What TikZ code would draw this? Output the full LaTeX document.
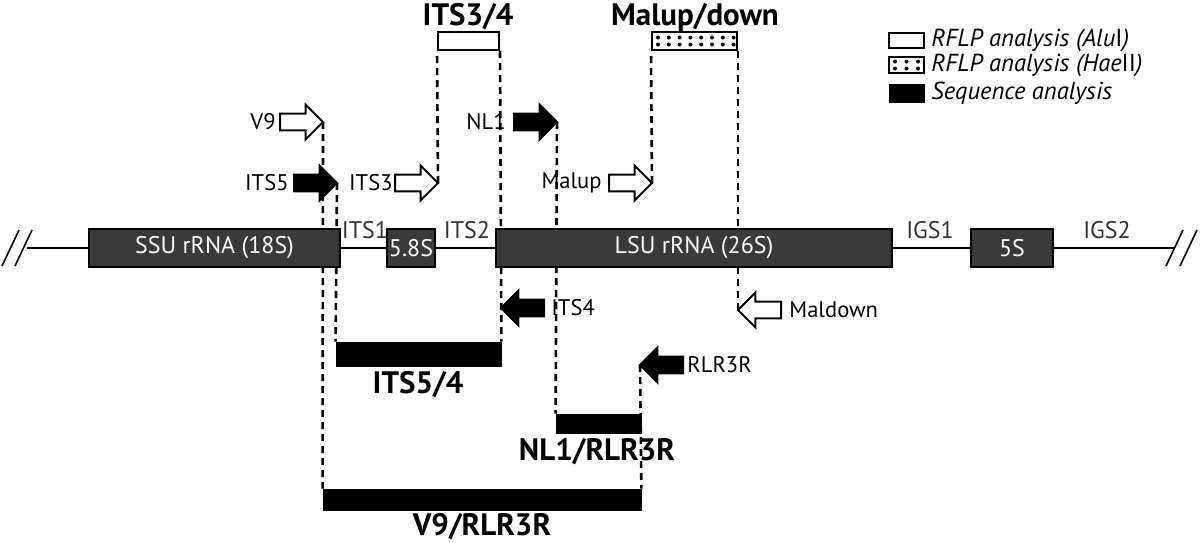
\documentclass[tikz,border=0pt]{standalone}
\usepackage{fontspec}
\setmainfont{PT Sans}
\usetikzlibrary{shapes.arrows}
\definecolor{boxgray}{HTML}{3A3A3A}
\definecolor{labgray}{HTML}{333333}
\begin{document}
\begin{tikzpicture}[x=0.5pt,y=-0.5pt,
  gene/.style={draw=black, line width=0.8pt, fill=boxgray, text=white,
    font=\fontsize{12}{14}\selectfont, inner sep=0pt, minimum height=19pt},
  region/.style={text=labgray, font=\fontsize{12}{14}\selectfont, inner sep=0pt},
  primer/.style={font=\fontsize{11.3}{13}\selectfont, inner sep=0pt},
  parrow/.style={single arrow, draw=black, line width=1pt, minimum height=21.5pt,
    inner xsep=0pt, inner ysep=3.7pt, single arrow head extend=4.5pt,
    single arrow tip angle=90, outer sep=0pt, anchor=tip},
  openarr/.style={parrow, fill=white},
  fullarr/.style={parrow, fill=black},
  leftarr/.style={shape border rotate=180},
  rflp/.style={draw=black, line width=1pt, fill=white, inner sep=0pt},
  seqbar/.style={draw=black, fill=black, inner sep=0pt},
  prodlab/.style={font=\bfseries\fontsize{15.5}{17}\selectfont, inner sep=0pt},
  legtext/.style={font=\itshape\fontsize{12.3}{14}\selectfont, anchor=west, inner sep=0pt},
  dashline/.style={line width=1.3pt, dash pattern=on 3.5pt off 2.5pt},
  backbone/.style={line width=0.8pt},
  dotmark/.style={fill=black}
]
\useasboundingbox (0,0) rectangle (1200,542);

% ---------- product bars ----------
\node[rflp, minimum width=30.5pt, minimum height=9pt] (its34) at (468.5,41) {};
\node[rflp, minimum width=42.5pt, minimum height=9pt] (malbox) at (694.5,41) {};
\foreach \i in {0,...,7}{
  \fill[dotmark] (658+\i*10.8,37.5) circle (2);
  \fill[dotmark] (658+\i*10.8,44.5) circle (2);
}
\node[prodlab, anchor=base] (its34lab) at (468,25.5) {ITS3/4};
\node[prodlab, anchor=base] (mallab) at (695,25.5) {Malup/down};

\node[seqbar, minimum width=82.5pt, minimum height=12pt] (its54) at (418.5,354) {};
\node[seqbar, minimum width=42.5pt, minimum height=9.5pt] (nlr) at (598.5,423.5) {};
\node[seqbar, minimum width=159pt, minimum height=10.5pt] (v9r) at (482,499.5) {};
\node[prodlab, anchor=base] (its54lab) at (418,393) {ITS5/4};
\node[prodlab, anchor=base] (nlrlab) at (597,460) {NL1/RLR3R};
\node[prodlab, anchor=base] (v9rlab) at (482,535) {V9/RLR3R};

% ---------- primers ----------
\node[openarr] (v9) at (323,122) {};
\node[fullarr] (its5) at (337,183) {};
\node[openarr] (its3) at (438,183) {};
\node[fullarr] (nl1) at (557,122) {};
\node[openarr] (malup) at (652,183) {};
\node[fullarr, leftarr] (its4) at (501,308) {};
\node[openarr, leftarr] (maldown) at (738,310) {};
\node[fullarr, leftarr] (rlr3r) at (640,365) {};

\node[primer, anchor=east] (v9lab) at (276,122) {V9};
\node[primer, anchor=east] (its5lab) at (289,183) {ITS5};
\node[primer, anchor=east] (its3lab) at (393,183) {ITS3};
\node[primer, anchor=east] (nl1lab) at (506,122) {NL1};
\node[primer, anchor=east] (maluplab) at (602,183) {Malup};
\node[primer, anchor=west] (its4lab) at (551,308) {ITS4};
\node[primer, anchor=west] (maldownlab) at (789,310) {Maldown};
\node[primer, anchor=west] (rlr3rlab) at (687,365) {RLR3R};

% ---------- dashed connectors ----------
\draw[dashline] (v9.tip) -- (v9r.north west);
\draw[dashline] (its5.tip) -- (its54.north west);
\draw[dashline] (its3.tip) -- (its34.south west);
\draw[dashline] (its34.south east) -- (its54.north east);
\draw[dashline] (nl1.tip) -- (nlr.north west);
\draw[dashline] (malup.tip) -- (malbox.south west);
\draw[dashline] (malbox.south east) -- (maldown.tip);
\draw[dashline] (rlr3r.tip) -- (v9r.north east);

% ---------- rDNA backbone ----------
\coordinate (lend) at (27,248);
\coordinate (rend) at (1174,248);
\node[gene, minimum width=125.5pt] (ssu) at (214.5,248) {SSU rRNA (18S)};
\node[gene, minimum width=24pt] (s58) at (411,248) {5.8S};
\node[gene, minimum width=198pt] (lsu) at (694,248) {LSU rRNA (26S)};
\node[gene, minimum width=41pt] (s5) at (1012,248) {5S};
\draw[backbone] (lend) -- (ssu.west);
\draw[backbone] (ssu.east) -- (s58.west);
\draw[backbone] (s58.east) -- (lsu.west);
\draw[backbone] (lsu.east) -- (s5.west);
\draw[backbone] (s5.east) -- (rend);
\draw[backbone] (2,266) -- (19,230);
\draw[backbone] (15,266) -- (32,230);
\draw[backbone] (1166,266) -- (1183,230);
\draw[backbone] (1180,266) -- (1197,230);

\node[region] (its1) at (365,230) {ITS1};
\node[region] (its2) at (467,230) {ITS2};
\node[region] (igs1) at (930,230) {IGS1};
\node[region] (igs2) at (1107,230) {IGS2};

% ---------- legend ----------
\node[rflp, minimum width=17.5pt, minimum height=7.5pt] (leg1) at (906.5,40.5) {};
\node[rflp, minimum width=17.5pt, minimum height=8pt] (leg2) at (906.5,65) {};
\foreach \i in {0,1,2}{
  \fill[dotmark] (895+\i*11.5,61.5) circle (2);
  \fill[dotmark] (895+\i*11.5,68.5) circle (2);
}
\node[seqbar, minimum width=17.5pt, minimum height=9pt] (leg3) at (906.5,93) {};
\node[legtext] (leg1t) at (931,40.5) {RFLP analysis (Alu\textup{I})};
\node[legtext] (leg2t) at (931,65) {RFLP analysis (Hae\textup{II})};
\node[legtext] (leg3t) at (931,93) {Sequence analysis};
\end{tikzpicture}
\end{document}
